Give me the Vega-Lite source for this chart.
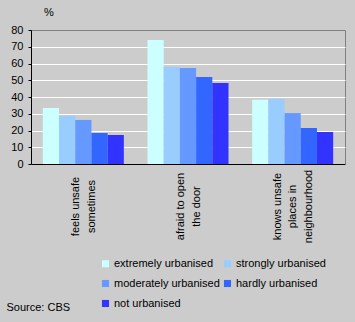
{
  "$schema": "https://vega.github.io/schema/vega-lite/v6.json",
  "autosize": {"type": "none"},
  "width": 314,
  "height": 134,
  "padding": {"left": 31, "top": 30, "right": 10, "bottom": 158},
  "background": "#CCCCCC",
  "config": {
    "font": "Liberation Sans",
    "view": {"stroke": "#808080", "strokeWidth": 1, "fill": "#CCCCCC"},
    "axis": {"labelFont": "Liberation Sans", "titleFont": "Liberation Sans", "labelFontSize": 11, "titleFontSize": 11, "labelColor": "black", "titleColor": "black", "titleFontWeight": "normal"},
    "legend": {"labelFont": "Liberation Sans", "labelFontSize": 11, "labelColor": "black"}
  },
  "data": {
    "values": [
      {"item": "feels unsafe|sometimes", "area": "extremely urbanised", "value": 33.4},
      {"item": "feels unsafe|sometimes", "area": "strongly urbanised", "value": 28.8},
      {"item": "feels unsafe|sometimes", "area": "moderately urbanised", "value": 26.3},
      {"item": "feels unsafe|sometimes", "area": "hardly urbanised", "value": 18.5},
      {"item": "feels unsafe|sometimes", "area": "not urbanised", "value": 17.3},
      {"item": "afraid to open|the door", "area": "extremely urbanised", "value": 74.0},
      {"item": "afraid to open|the door", "area": "strongly urbanised", "value": 57.9},
      {"item": "afraid to open|the door", "area": "moderately urbanised", "value": 57.3},
      {"item": "afraid to open|the door", "area": "hardly urbanised", "value": 51.9},
      {"item": "afraid to open|the door", "area": "not urbanised", "value": 48.4},
      {"item": "knows unsafe|places in|neighbourhood", "area": "extremely urbanised", "value": 38.4},
      {"item": "knows unsafe|places in|neighbourhood", "area": "strongly urbanised", "value": 38.8},
      {"item": "knows unsafe|places in|neighbourhood", "area": "moderately urbanised", "value": 30.4},
      {"item": "knows unsafe|places in|neighbourhood", "area": "hardly urbanised", "value": 21.5},
      {"item": "knows unsafe|places in|neighbourhood", "area": "not urbanised", "value": 19.1}
    ]
  },
  "mark": {"type": "bar"},
  "encoding": {
    "x": {
      "field": "item",
      "type": "nominal",
      "sort": null,
      "scale": {"paddingInner": 0.226, "paddingOuter": 0.113},
      "axis": {
        "title": "Source: CBS",
        "titleX": -25,
        "titleY": 143.5,
        "titleAlign": "left",
        "titleBaseline": "middle",
        "titleAnchor": null,
        "labelExpr": "split(datum.label, '|')",
        "labelAngle": -90,
        "labelAlign": "center",
        "labelBaseline": "middle",
        "labelLineHeight": 15.5,
        "labelPadding": 42,
        "labelOffset": {"condition": {"test": "indexof(datum.value, 'knows') >= 0", "value": -15}, "value": -7},
        "ticks": false,
        "tickSize": 0,
        "domainColor": "black",
        "domainWidth": 1,
        "grid": false
      }
    },
    "xOffset": {
      "field": "area",
      "type": "nominal",
      "sort": ["extremely urbanised", "strongly urbanised", "moderately urbanised", "hardly urbanised", "not urbanised"],
      "scale": {"paddingInner": 0, "paddingOuter": 0}
    },
    "y": {
      "field": "value",
      "type": "quantitative",
      "scale": {"domain": [0, 80], "nice": false},
      "axis": {
        "title": "%",
        "titleAngle": 0,
        "titleX": 17.5,
        "titleY": -17.5,
        "titleAlign": "center",
        "titleBaseline": "middle",
        "values": [0, 10, 20, 30, 40, 50, 60, 70, 80],
        "tickSize": 3,
        "tickColor": "black",
        "labelPadding": 5,
        "domainColor": "black",
        "grid": true,
        "gridColor": {"condition": {"test": "datum.value >= 80", "value": "#808080"}, "value": "white"},
        "gridWidth": 1,
        "gridOpacity": 1
      }
    },
    "color": {
      "field": "area",
      "type": "nominal",
      "sort": ["extremely urbanised", "strongly urbanised", "moderately urbanised", "hardly urbanised", "not urbanised"],
      "scale": {
        "domain": ["extremely urbanised", "strongly urbanised", "moderately urbanised", "hardly urbanised", "not urbanised"],
        "range": ["#CCFFFF", "#99CCFF", "#6699FF", "#3366FF", "#3333FF"]
      },
      "legend": {
        "title": null,
        "orient": "none",
        "direction": "horizontal",
        "legendX": 69,
        "legendY": 228,
        "columns": 2,
        "symbolType": "square",
        "symbolSize": 50,
        "symbolStrokeWidth": 0,
        "symbolOpacity": 1,
        "labelOffset": 3,
        "columnPadding": 2,
        "rowPadding": 8,
        "padding": 0
      }
    }
  }
}
